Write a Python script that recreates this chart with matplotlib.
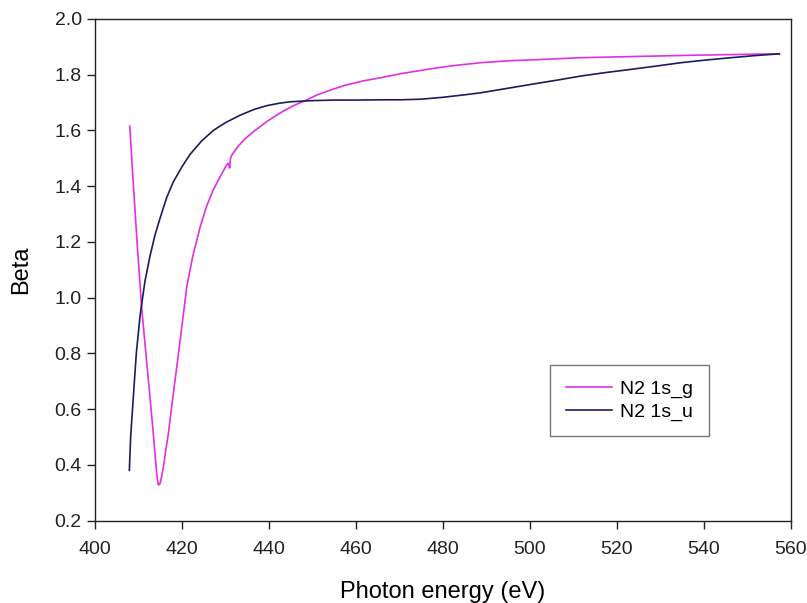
import matplotlib
matplotlib.use("Agg")
from matplotlib import pyplot as plt

plt.rcParams['font.family'] = ['Liberation Sans', 'DejaVu Sans']

# N2 1s_g (magenta)
energia_g = [408.0, 408.8, 409.8, 410.75, 411.7, 412.66, 413.3, 413.8, 414.2, 414.57,
             414.9, 415.3, 415.8, 416.3, 416.87, 417.8, 418.8, 420.0, 421.1, 422.5,
             424.2, 425.7, 427.2, 428.8, 430.3, 430.7, 430.95, 431.15, 431.5, 433.0,
             434.5, 436.4, 439.5, 442.6, 445.5, 448.3, 451.0, 454.1, 457.5, 461.7,
             465.6, 470.0, 477.1, 482.0, 488.6, 495.0, 500.0, 511.6, 520.0, 534.6,
             545.0, 557.3]
beta_g = [1.615, 1.41, 1.17, 0.96, 0.80, 0.64, 0.53, 0.44, 0.365, 0.328,
          0.33, 0.355, 0.40, 0.455, 0.512, 0.63, 0.751, 0.90, 1.039, 1.15,
          1.255, 1.33, 1.387, 1.435, 1.477, 1.482, 1.465, 1.50, 1.513, 1.545,
          1.57, 1.595, 1.632, 1.663, 1.688, 1.707, 1.727, 1.745, 1.762, 1.778,
          1.789, 1.803, 1.821, 1.832, 1.843, 1.85, 1.853, 1.861, 1.864, 1.869,
          1.872, 1.875]

# N2 1s_u (azul marino)
energia_u = [407.9, 408.2, 408.8, 409.5, 410.4, 411.5, 412.66, 413.8, 414.96, 416.5,
             418.0, 420.0, 421.9, 424.5, 427.2, 430.0, 433.4, 436.5, 439.5, 442.5,
             445.0, 450.0, 455.0, 460.0, 465.6, 470.0, 474.8, 480.0, 485.0, 488.6,
             494.0, 500.1, 506.0, 511.6, 517.0, 523.1, 529.0, 534.6, 540.0, 546.1,
             552.0, 557.3]
beta_u = [0.38, 0.50, 0.64, 0.80, 0.94, 1.06, 1.15, 1.225, 1.285, 1.36,
          1.415, 1.47, 1.515, 1.562, 1.60, 1.628, 1.655, 1.675, 1.689, 1.698,
          1.703, 1.707, 1.709, 1.709, 1.710, 1.710, 1.712, 1.719, 1.728, 1.735,
          1.749, 1.765, 1.780, 1.795, 1.807, 1.819, 1.831, 1.843, 1.852, 1.861,
          1.869, 1.875]

fig = plt.figure(figsize=(8.07, 6.03), dpi=100)
ax = fig.add_axes([0.1177, 0.1368, 0.8625, 0.8317])

ax.plot(energia_g, beta_g, color='#e030e0', linewidth=1.2, label='N2 1s_g')
ax.plot(energia_u, beta_u, color='#1c1c5c', linewidth=1.2, label='N2 1s_u')

ax.set_xlim(400, 560)
ax.set_ylim(0.2, 2.0)
ax.set_xticks(range(400, 561, 20))
ax.set_yticks([0.2, 0.4, 0.6, 0.8, 1.0, 1.2, 1.4, 1.6, 1.8, 2.0])
ax.set_yticklabels(['0.2', '0.4', '0.6', '0.8', '1.0', '1.2', '1.4', '1.6', '1.8', '2.0'])
ax.tick_params(direction='out', length=6, width=1, labelsize=14, colors='#222222')
ax.tick_params(axis='x', pad=9)
for s in ax.spines.values():
    s.set_linewidth(1)
    s.set_color('#222222')

ax.set_xlabel('Photon energy (eV)', fontsize=17, labelpad=16)
ax.set_ylabel('Beta', fontsize=17, labelpad=16)

leg = ax.legend(loc='lower left', bbox_to_anchor=(0.654, 0.168), fontsize=14,
                frameon=True, fancybox=False, borderpad=0.8, handlelength=2.4,
                handletextpad=0.4, labelspacing=0.25, borderaxespad=0)
leg.get_frame().set_edgecolor('#555555')
leg.get_frame().set_linewidth(1)

plt.savefig('out.png', dpi=100)
